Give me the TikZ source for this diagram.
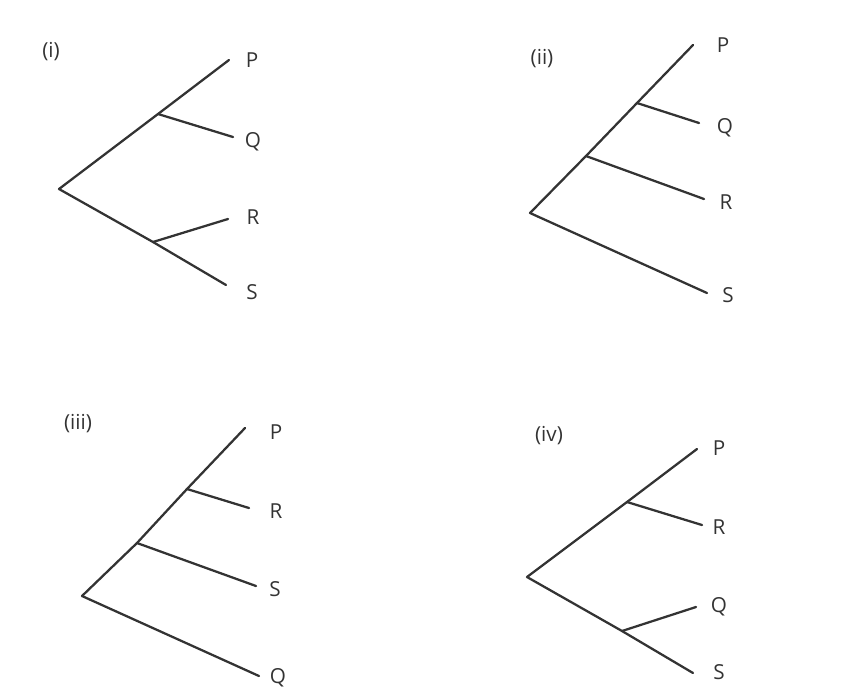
\documentclass[tikz,border=0pt]{standalone}
\usepackage{fontspec}
\setmainfont{Open Sans}
\begin{document}
\begin{tikzpicture}[x=0.75pt,y=-0.75pt]
\tikzset{every node/.style={inner sep=0pt,text=black!80,font=\fontsize{15.5}{18}\selectfont}}
\tikzset{branch/.style={draw=black!80,line width=1.7pt,line cap=round,line join=round}}
\useasboundingbox (0,0) rectangle (856,697);
% tree (i)
\node (lab1) at (51,52) {(i)};
\coordinate (r1) at (59,189);
\coordinate (u1) at (158,114);
\coordinate (d1) at (153,242);
\coordinate (p1) at (229,60);
\coordinate (q1) at (233,137);
\coordinate (rr1) at (228,219);
\coordinate (s1) at (226,285);
\draw [branch] (p1) -- (u1) -- (r1) -- (d1) -- (s1);
\draw [branch] (u1) -- (q1);
\draw [branch] (d1) -- (rr1);
\node (P1) at (252,60) {P};
\node (Q1) at (253,142) {Q};
\node (R1) at (253,217) {R};
\node (S1) at (252,292) {S};
% tree (ii)
\node (lab2) at (542,59) {(ii)};
\coordinate (r2) at (530,213);
\coordinate (u2) at (586,156);
\coordinate (v2) at (637,103);
\coordinate (p2) at (693,45);
\coordinate (q2) at (699,123);
\coordinate (rr2) at (704,199);
\coordinate (s2) at (707,293);
\draw [branch] (p2) -- (v2) -- (u2) -- (r2) -- (s2);
\draw [branch] (v2) -- (q2);
\draw [branch] (u2) -- (rr2);
\node (P2) at (723,45) {P};
\node (Q2) at (725,128) {Q};
\node (R2) at (726,202) {R};
\node (S2) at (728,295) {S};
% tree (iii)
\node (lab3) at (78,424) {(iii)};
\coordinate (r3) at (82,596);
\coordinate (u3) at (137,543);
\coordinate (v3) at (187,489);
\coordinate (p3) at (245,428);
\coordinate (rr3) at (249,508);
\coordinate (s3) at (256,586);
\coordinate (q3) at (259,676);
\draw [branch] (p3) -- (v3) -- (u3) -- (r3) -- (q3);
\draw [branch] (v3) -- (rr3);
\draw [branch] (u3) -- (s3);
\node (P3) at (276,432) {P};
\node (R3) at (276,511) {R};
\node (S3) at (275,589) {S};
\node (Q3) at (278,678) {Q};
% tree (iv)
\node (lab4) at (549,436) {(iv)};
\coordinate (r4) at (527,577);
\coordinate (u4) at (627,502);
\coordinate (d4) at (622,631);
\coordinate (p4) at (697,449);
\coordinate (rr4) at (702,525);
\coordinate (q4) at (696,607);
\coordinate (s4) at (693,673);
\draw [branch] (p4) -- (u4) -- (r4) -- (d4) -- (s4);
\draw [branch] (u4) -- (rr4);
\draw [branch] (d4) -- (q4);
\node (P4) at (719,448) {P};
\node (R4) at (719,527) {R};
\node (Q4) at (719,607) {Q};
\node (S4) at (719,672) {S};
\end{tikzpicture}
\end{document}
